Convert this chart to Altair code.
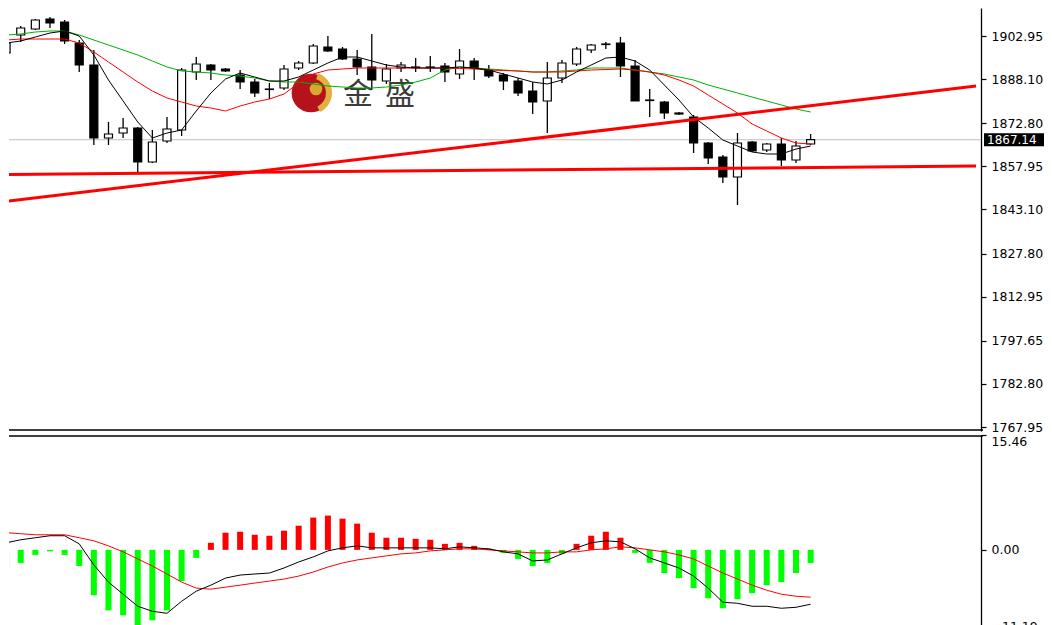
import altair as alt
import pandas as pd

# ---------------- data ----------------
opens = [1897.08, 1903.30, 1905.37, 1908.82, 1907.78, 1900.53, 1892.94, 1867.73, 1869.46, 1871.19,
         1859.45, 1866.70, 1870.49, 1890.52, 1892.94, 1891.56, 1889.48, 1887.07, 1884.65, 1885.00,
         1891.90, 1893.63, 1899.15, 1898.46, 1895.01, 1892.25, 1887.41, 1891.90, 1892.25, 1892.07,
         1892.59, 1889.83, 1894.32, 1891.21, 1889.48, 1887.41, 1883.96, 1880.51, 1888.45, 1893.28,
         1898.12, 1900.19, 1900.53, 1892.59, 1880.85, 1880.16, 1876.36, 1874.98, 1866.01, 1861.17,
         1854.27, 1866.35, 1863.59, 1865.66, 1860.14, 1865.66]
highs = [1908.47, 1906.40, 1908.82, 1909.51, 1908.47, 1901.57, 1898.12, 1873.26, 1874.64, 1871.53,
         1870.49, 1874.98, 1891.90, 1895.70, 1893.28, 1891.90, 1891.21, 1888.10, 1886.72, 1892.94,
         1894.32, 1900.19, 1902.95, 1899.15, 1898.12, 1903.64, 1893.28, 1893.97, 1895.35, 1896.04,
         1893.63, 1898.46, 1895.35, 1892.94, 1890.18, 1888.45, 1887.07, 1893.97, 1894.66, 1899.15,
         1900.19, 1900.88, 1902.61, 1894.66, 1884.65, 1880.51, 1876.71, 1875.67, 1866.35, 1861.86,
         1869.46, 1866.70, 1866.01, 1867.73, 1866.70, 1869.11]
lows = [1893.97, 1900.88, 1905.02, 1905.71, 1900.19, 1890.52, 1865.32, 1865.32, 1867.73, 1855.65,
        1859.10, 1866.01, 1868.42, 1887.76, 1887.76, 1890.52, 1884.65, 1881.89, 1881.20, 1884.31,
        1891.21, 1893.28, 1897.43, 1894.66, 1889.48, 1884.31, 1886.38, 1890.52, 1890.52, 1890.52,
        1887.07, 1888.10, 1887.76, 1888.45, 1884.31, 1882.23, 1876.02, 1869.46, 1886.72, 1892.59,
        1897.08, 1898.46, 1888.79, 1880.51, 1874.98, 1874.29, 1875.67, 1862.55, 1858.76, 1852.20,
        1844.60, 1862.90, 1862.90, 1858.07, 1859.10, 1865.32]
closes = [1900.53, 1905.71, 1908.47, 1907.44, 1901.22, 1892.94, 1867.73, 1869.11, 1871.19, 1859.45,
          1866.35, 1870.84, 1891.21, 1893.28, 1891.21, 1890.87, 1887.07, 1883.27, 1884.48, 1891.56,
          1893.63, 1899.50, 1897.77, 1895.01, 1892.25, 1887.76, 1891.56, 1892.94, 1892.07, 1892.25,
          1890.52, 1894.32, 1891.90, 1889.14, 1887.41, 1883.27, 1880.16, 1888.45, 1893.63, 1898.46,
          1899.84, 1900.02, 1892.59, 1880.51, 1880.68, 1876.36, 1876.02, 1866.01, 1860.83, 1854.27,
          1866.01, 1863.24, 1865.66, 1860.14, 1864.97, 1867.14]

ma_black = [1900.53, 1901.22, 1902.61, 1903.99, 1904.68, 1902.95, 1896.39, 1887.76, 1880.51, 1873.26,
            1867.73, 1869.46, 1870.49, 1877.06, 1883.27, 1888.10, 1890.18, 1888.79, 1887.41, 1887.41,
            1888.79, 1891.21, 1893.63, 1895.70, 1895.70, 1894.32, 1892.94, 1892.25, 1891.90, 1891.90,
            1891.90, 1892.25, 1891.90, 1891.21, 1889.83, 1888.45, 1887.07, 1886.38, 1887.76, 1890.52,
            1892.94, 1895.35, 1895.70, 1894.32, 1891.21, 1886.03, 1880.85, 1874.98, 1871.19, 1867.04,
            1864.97, 1862.90, 1862.21, 1862.21, 1863.93, 1864.97]
ma_red = [1901.57, 1901.91, 1901.91, 1901.91, 1901.91, 1900.53, 1897.43, 1893.97, 1890.52, 1887.07,
          1883.96, 1881.54, 1880.16, 1878.78, 1878.09, 1877.06, 1878.78, 1880.16, 1881.20, 1882.92,
          1886.72, 1889.83, 1891.21, 1891.56, 1891.90, 1891.90, 1891.90, 1891.90, 1891.90, 1891.90,
          1891.90, 1891.73, 1891.56, 1891.21, 1891.04, 1890.87, 1890.52, 1890.52, 1890.52, 1890.87,
          1891.21, 1891.38, 1891.56, 1891.21, 1890.52, 1889.48, 1887.76, 1885.69, 1882.58, 1879.47,
          1876.36, 1872.57, 1870.15, 1867.73, 1866.01, 1865.66]
ma_green = [1903.30, 1903.64, 1904.33, 1904.68, 1904.68, 1903.30, 1901.57, 1899.84, 1898.12, 1896.39,
            1894.32, 1892.25, 1890.87, 1890.52, 1890.18, 1889.48, 1889.14, 1888.45, 1887.41, 1887.07,
            1887.07, 1886.38, 1885.69, 1885.34, 1885.00, 1885.00, 1885.34, 1886.03, 1887.07, 1888.45,
            1891.21, 1892.25, 1891.90, 1891.56, 1891.21, 1890.87, 1890.52, 1890.52, 1890.87, 1891.21,
            1891.90, 1891.90, 1891.90, 1891.21, 1890.52, 1889.83, 1888.79, 1887.76, 1886.03, 1884.65,
            1883.27, 1881.89, 1880.51, 1879.13, 1877.75, 1876.71]

macd_hist = [-2.71, -1.76, -0.68, -0.20, -0.68, -2.17, -6.10, -8.14, -8.81, -10.30,
             -9.49, -8.14, -4.20, -1.08, 0.95, 2.31, 2.44, 2.03, 1.90, 2.58,
             3.25, 4.34, 4.61, 4.20, 3.53, 2.31, 1.63, 1.63, 1.49, 1.36,
             0.81, 0.95, 0.54, 0.15, -0.41, -1.22, -2.17, -1.76, -0.54, 0.81,
             1.90, 2.44, 1.63, -0.41, -1.76, -3.12, -3.80, -5.15, -6.51, -7.86,
             -6.64, -5.83, -4.75, -4.34, -3.12, -1.76]
macd_line = [0.95, 1.36, 1.63, 1.90, 1.90, 0.81, -2.03, -4.34, -5.97, -7.59,
             -8.27, -8.54, -6.92, -5.56, -4.75, -3.80, -3.39, -3.25, -3.12, -2.44,
             -1.63, -0.95, -0.14, 0.27, 0.54, 0.27, 0.27, 0.27, 0.27, 0.27,
             0.14, 0.41, 0.27, 0.14, -0.27, -0.54, -1.49, -1.36, -0.54, 0.27,
             0.95, 1.22, 1.08, 0.14, -1.08, -1.76, -2.44, -3.53, -5.15, -7.05,
             -7.19, -7.59, -7.59, -7.86, -7.73, -7.32]
signal_line = [2.31, 2.17, 2.03, 2.03, 2.03, 1.63, 1.22, 0.54, -0.27, -1.22,
               -2.17, -3.25, -4.34, -5.15, -5.29, -5.02, -4.75, -4.47, -4.20, -3.93,
               -3.53, -2.98, -2.31, -1.76, -1.36, -1.08, -0.81, -0.54, -0.41, -0.14,
               0.00, 0.14, 0.14, 0.00, -0.14, -0.27, -0.41, -0.41, -0.27, -0.27,
               0.00, 0.14, 0.41, 0.27, 0.00, -0.27, -0.68, -1.22, -2.17, -3.12,
               -3.93, -4.75, -5.43, -5.97, -6.24, -6.37]

# two hand-drawn trend lines (bar index, price at both ends)
trend_idx = [0.0, 66.31]
trend_low = [1855.13, 1858.06]
trend_rise = [1845.88, 1885.69]

last_price = 1867.14
price_ticks = [1902.95, 1888.10, 1872.80, 1857.95, 1843.10, 1827.80, 1812.95, 1797.65, 1782.80, 1767.95]
macd_ticks = [-11.19, 0.00, 15.46]

# ---------------- tables ----------------
n = len(closes)
df = pd.DataFrame({
    "i": list(range(n)), "open": opens, "high": highs, "low": lows, "close": closes,
    "ma_black": ma_black, "ma_red": ma_red, "ma_green": ma_green,
    "hist": macd_hist, "macd": macd_line, "signal": signal_line,
})
trend_df = pd.DataFrame({
    "i": trend_idx * 2,
    "p": trend_low + trend_rise,
    "line": ["low"] * 2 + ["rise"] * 2,
})
one = pd.DataFrame({"v": [last_price]})

W = 972
H_PRICE = 423
H_MACD = 198
FONT = "DejaVu Sans"
LABEL_SIZE = 12.5

xscale = alt.Scale(domain=[0.541, 66.306], nice=False, zero=False)
X = alt.X("i:Q", scale=xscale, axis=None)
pscale = alt.Scale(domain=[1766.57, 1912.62], nice=False, zero=False)
paxis = alt.Axis(orient="right", values=price_ticks, format=".2f", title=None, grid=False,
                 domainColor="black", domainWidth=1.3, tickColor="black", tickSize=5,
                 tickWidth=1.2, labelFont=FONT, labelFontSize=LABEL_SIZE, labelColor="black",
                 labelPadding=5)

base = alt.Chart(df)

# watermark
logo_src = alt.Chart(pd.DataFrame({"k": [0]}))
logo_ball = logo_src.mark_point(filled=True, shape="circle", size=1500, color="#b5121b", opacity=1).encode(
    x=alt.value(302), y=alt.value(85))
logo_arc = logo_src.mark_arc(radius=21, radius2=15, theta=0.35, theta2=2.7, color="#e0b040").encode(
    x=alt.value(302), y=alt.value(85))
logo_dot = logo_src.mark_point(filled=True, shape="circle", size=160, color="#d8a830", opacity=1).encode(
    x=alt.value(307), y=alt.value(81))
logo_t1 = logo_src.mark_text(text="金", font="Noto Sans CJK SC", fontSize=30, color="#3c3c3c",
                             align="center", baseline="middle").encode(x=alt.value(349), y=alt.value(87))
logo_t2 = logo_src.mark_text(text="盛", font="Noto Sans CJK SC", fontSize=30, color="#3c3c3c",
                             align="center", baseline="middle").encode(x=alt.value(391), y=alt.value(87))

price_line = alt.Chart(one).mark_rule(color="#c0c0c0", strokeWidth=1).encode(
    y=alt.Y("v:Q", scale=pscale, axis=paxis), x=alt.value(0), x2=alt.value(W))

wicks = base.mark_rule(color="black", strokeWidth=1.3, clip=True).encode(
    x=X, y=alt.Y("low:Q", scale=pscale, axis=paxis), y2="high:Q")
bodies = base.mark_bar(size=8, stroke="black", strokeWidth=1.2, clip=True).encode(
    x=X, y=alt.Y("open:Q", scale=pscale, axis=paxis), y2="close:Q",
    fill=alt.condition("datum.close >= datum.open", alt.value("white"), alt.value("black")))

def ma(col, color):
    return base.mark_line(color=color, strokeWidth=1, clip=True).encode(
        x=X, y=alt.Y(f"{col}:Q", scale=pscale, axis=paxis))

trend = alt.Chart(trend_df).mark_line(color="#ff0000", strokeWidth=3, clip=True).encode(
    x=alt.X("i:Q", scale=xscale, axis=None), y=alt.Y("p:Q", scale=pscale, axis=paxis), detail="line:N")

price_box = alt.Chart(one).mark_tick(orient="horizontal", size=60, thickness=13, color="black", opacity=1).encode(
    x=alt.value(1005), y=alt.Y("v:Q", scale=pscale, axis=paxis))
price_txt = alt.Chart(one).mark_text(color="white", font=FONT, fontSize=12, align="left",
                                     baseline="middle").encode(
    x=alt.value(978), y=alt.Y("v:Q", scale=pscale, axis=paxis), text=alt.Text("v:Q", format=".2f"))

bottom_rule = logo_src.mark_rule(color="black", strokeWidth=1.5).encode(
    x=alt.value(0), x2=alt.value(W + 2), y=alt.value(H_PRICE - 1))

price_panel = alt.layer(
    logo_ball, logo_arc, logo_dot, logo_t1, logo_t2, price_line, wicks, bodies,
    ma("ma_green", "#00b000"), ma("ma_red", "#ff0000"), ma("ma_black", "black"),
    trend, price_box, price_txt, bottom_rule,
).properties(width=W, height=H_PRICE)

mscale = alt.Scale(domain=[-11.19, 15.46], nice=False, zero=False)
maxis = alt.Axis(orient="right", values=macd_ticks, format=".2f", title=None, grid=False,
                 domainColor="black", domainWidth=1.3, tickColor="black", tickSize=5,
                 tickWidth=1.2, labelFont=FONT, labelFontSize=LABEL_SIZE, labelColor="black",
                 labelPadding=5, labelFlush=True)

hist = base.mark_bar(size=6, clip=True).encode(
    x=X, y=alt.Y("hist:Q", scale=mscale, axis=maxis, stack=None), y2=alt.Y2(datum=0),
    color=alt.condition("datum.hist > 0", alt.value("#ff0000"), alt.value("#00ff00")))
macd_l = base.mark_line(color="black", strokeWidth=1, clip=True).encode(
    x=X, y=alt.Y("macd:Q", scale=mscale, axis=maxis))
sig_l = base.mark_line(color="#ff0000", strokeWidth=1, clip=True).encode(
    x=X, y=alt.Y("signal:Q", scale=mscale, axis=maxis))
top_rule = logo_src.mark_rule(color="black", strokeWidth=1.5).encode(
    x=alt.value(0), x2=alt.value(W + 2), y=alt.value(1))

macd_panel = alt.layer(hist, sig_l, macd_l, top_rule).properties(width=W, height=H_MACD)

chart = alt.vconcat(price_panel, macd_panel, spacing=4, bounds="flush").properties(
    padding={"left": 0, "right": 0, "top": 0, "bottom": 0},
    background="white",
).configure_view(stroke=None)

chart.save("out.html", embed_options={"renderer": "svg", "actions": False})
